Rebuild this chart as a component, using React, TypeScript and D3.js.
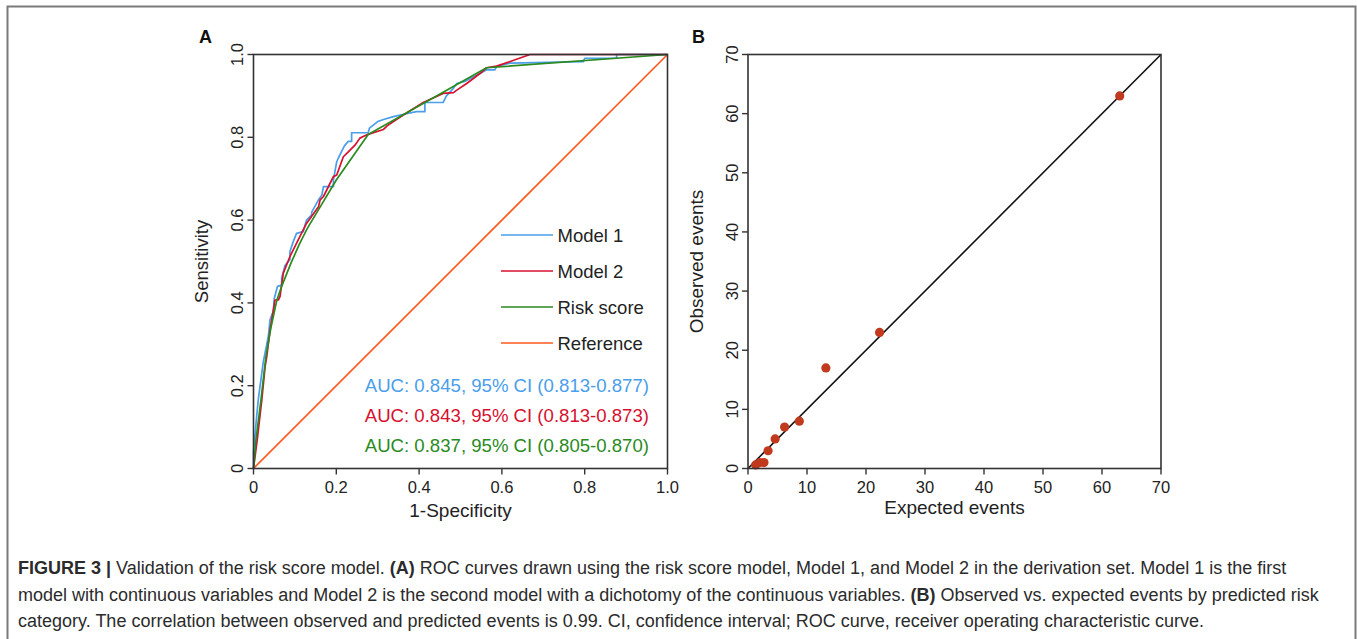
import * as d3 from 'd3';
import { useEffect, useRef } from "react";

// ROC points [1-specificity, sensitivity]
const model1: [number, number][] = [
  [0, 0], [0, 0.04], [0.004, 0.085], [0.008, 0.13], [0.012, 0.17], [0.016, 0.2], [0.024, 0.26],
  [0.028, 0.28], [0.036, 0.32], [0.04, 0.36], [0.048, 0.38], [0.05, 0.41], [0.058, 0.44],
  [0.068, 0.443], [0.068, 0.46], [0.076, 0.49], [0.088, 0.505], [0.088, 0.524], [0.096, 0.548],
  [0.104, 0.568], [0.12, 0.572], [0.128, 0.6], [0.14, 0.612], [0.141, 0.62], [0.152, 0.64],
  [0.157, 0.649], [0.165, 0.66], [0.169, 0.681], [0.193, 0.681], [0.193, 0.697], [0.201, 0.741],
  [0.205, 0.75], [0.21, 0.76], [0.215, 0.77], [0.22, 0.78], [0.229, 0.79], [0.237, 0.79],
  [0.237, 0.811], [0.277, 0.811], [0.28, 0.822], [0.29, 0.83], [0.3, 0.838], [0.314, 0.843],
  [0.338, 0.85], [0.36, 0.855], [0.394, 0.862], [0.414, 0.862], [0.414, 0.884], [0.458, 0.884],
  [0.466, 0.9], [0.48, 0.915], [0.491, 0.93], [0.51, 0.935], [0.547, 0.954], [0.563, 0.963],
  [0.583, 0.963], [0.587, 0.971], [0.62, 0.979], [0.797, 0.983], [0.8, 0.991], [0.877, 0.991],
  [0.877, 1], [1, 1],
];
const model2: [number, number][] = [
  [0, 0], [0.009, 0.069], [0.02, 0.165], [0.028, 0.246], [0.032, 0.27], [0.04, 0.335],
  [0.048, 0.383], [0.052, 0.407], [0.06, 0.407], [0.064, 0.415], [0.072, 0.472], [0.088, 0.512],
  [0.108, 0.552], [0.128, 0.592], [0.157, 0.632], [0.161, 0.649], [0.169, 0.657], [0.185, 0.689],
  [0.193, 0.705], [0.201, 0.709], [0.217, 0.753], [0.229, 0.765], [0.245, 0.781], [0.257, 0.798],
  [0.265, 0.802], [0.277, 0.807], [0.314, 0.819], [0.322, 0.827], [0.338, 0.838], [0.362, 0.854],
  [0.41, 0.884], [0.458, 0.906], [0.483, 0.908], [0.491, 0.914], [0.515, 0.93], [0.547, 0.954],
  [0.563, 0.968], [0.587, 0.972], [0.62, 0.983], [0.668, 1], [1, 1],
];
const riskScore: [number, number][] = [
  [0, 0], [0.006, 0.07], [0.018, 0.165], [0.03, 0.27], [0.042, 0.34], [0.056, 0.405],
  [0.068, 0.44], [0.09, 0.495], [0.11, 0.54], [0.13, 0.58], [0.16, 0.63], [0.2, 0.697],
  [0.277, 0.807], [0.563, 0.968], [1, 1],
];
const reference: [number, number][] = [[0, 0], [1, 1]];

const legendNames = ["Model 1", "Model 2", "Risk score", "Reference"];
const seriesColors = ["#4A9EEA", "#D7102F", "#2A8A1E", "#FF5A1F"];
const aucLabels = [
  "AUC: 0.845, 95% CI (0.813-0.877)",
  "AUC: 0.843, 95% CI (0.813-0.873)",
  "AUC: 0.837, 95% CI (0.805-0.870)",
];
const rocTicks = [0, 0.2, 0.4, 0.6, 0.8, 1.0];

// panel B: expected vs observed events
const expected = [63, 22.3, 13.2, 8.7, 6.2, 4.6, 3.4, 2.7, 2.0, 1.3];
const observed = [63, 23, 17, 8, 7, 5, 3, 1, 1, 0.6];
const eventTicks = [0, 10, 20, 30, 40, 50, 60, 70];

const captionLines = [
  [["FIGURE 3 | ", true], ["Validation of the risk score model. ", false], ["(A)", true],
   [" ROC curves drawn using the risk score model, Model 1, and Model 2 in the derivation set. Model 1 is the first", false]],
  [["model with continuous variables and Model 2 is the second model with a dichotomy of the continuous variables. ", false],
   ["(B)", true], [" Observed vs. expected events by predicted risk", false]],
  [["category. The correlation between observed and predicted events is 0.99. CI, confidence interval; ROC curve, receiver operating characteristic curve.", false]],
] as [string, boolean][][];

const W = 1357, H = 639;
const FONT = "'Liberation Sans', Arial, Helvetica, sans-serif";

const App = () => {
  const svgRef = useRef<SVGSVGElement>(null);

  useEffect(() => {
    const svg = d3.select(svgRef.current)
      .attr('width', W)
      .attr('height', H);
    svg.selectAll('*').remove();

    // outer frame
    svg.append('path')
      .attr('d', `M7.5,${H} V6.5 H1355.5 V${H}`)
      .attr('fill', 'none')
      .attr('stroke', '#7a7a7a')
      .attr('stroke-width', 2);

    const top = 54.5, bottom = 468.5;

    const drawFrame = (g: any, x: any, y: any, ticks: number[], fmt: (v: number) => string) => {
      const [x0, x1] = x.range();
      const [y0, y1] = y.range();
      g.append('rect')
        .attr('x', x0).attr('y', y1)
        .attr('width', x1 - x0).attr('height', y0 - y1)
        .attr('fill', 'none').attr('stroke', '#333').attr('stroke-width', 1.6);
      ticks.forEach(t => {
        g.append('line').attr('x1', x(t)).attr('x2', x(t)).attr('y1', y0).attr('y2', y0 + 6)
          .attr('stroke', '#333').attr('stroke-width', 1.4);
        g.append('text').attr('x', x(t)).attr('y', 493)
          .attr('text-anchor', 'middle').attr('font-size', 16.5).attr('fill', '#222')
          .text(fmt(t));
        g.append('line').attr('x1', x0 - 6).attr('x2', x0).attr('y1', y(t)).attr('y2', y(t))
          .attr('stroke', '#333').attr('stroke-width', 1.4);
        g.append('text')
          .attr('transform', `translate(${x0 - 10.5},${y(t)}) rotate(-90)`)
          .attr('text-anchor', 'middle').attr('font-size', 16.5).attr('fill', '#222')
          .text(fmt(t));
      });
    };

    // ---------- panel A ----------
    const xA = d3.scaleLinear().domain([0, 1]).range([253.5, 667.5]);
    const yA = d3.scaleLinear().domain([0, 1]).range([bottom, top]);
    const gA = svg.append('g').attr('font-family', FONT);

    const line = d3.line<[number, number]>().x(d => xA(d[0])).y(d => yA(d[1]));
    const series = [model1, model2, riskScore, reference];
    [3, 0, 1, 2].forEach(i => {
      gA.append('path')
        .attr('d', line(series[i]))
        .attr('fill', 'none')
        .attr('stroke', seriesColors[i])
        .attr('stroke-width', 1.7)
        .attr('stroke-linejoin', 'round');
    });
    drawFrame(gA, xA, yA, rocTicks, v => (v === 0 ? "0" : v.toFixed(1)));

    legendNames.forEach((name, i) => {
      const yy = 235 + i * 36;
      gA.append('line').attr('x1', 501).attr('x2', 553).attr('y1', yy).attr('y2', yy)
        .attr('stroke', seriesColors[i]).attr('stroke-width', 1.7);
      gA.append('text').attr('x', 557.5).attr('y', yy + 6.6)
        .attr('font-size', 18.5).attr('fill', '#222').text(name);
    });
    aucLabels.forEach((lab, i) => {
      gA.append('text').attr('x', 649).attr('y', 392.3 + i * 30)
        .attr('text-anchor', 'end').attr('font-size', 18.6)
        .attr('fill', seriesColors[i]).text(lab);
    });
    gA.append('text').attr('x', 460.5).attr('y', 517)
      .attr('text-anchor', 'middle').attr('font-size', 19).attr('fill', '#222').text('1-Specificity');
    gA.append('text').attr('transform', `translate(207.5,${(top + bottom) / 2}) rotate(-90)`)
      .attr('text-anchor', 'middle').attr('font-size', 18.5).attr('fill', '#222').text('Sensitivity');
    gA.append('text').attr('x', 199).attr('y', 43).attr('font-size', 18).attr('font-weight', 'bold')
      .attr('fill', '#111').text('A');

    // ---------- panel B ----------
    const xB = d3.scaleLinear().domain([0, 70]).range([748, 1161]);
    const yB = d3.scaleLinear().domain([0, 70]).range([bottom, top]);
    const gB = svg.append('g').attr('font-family', FONT);

    gB.append('line')
      .attr('x1', xB(0)).attr('y1', yB(0)).attr('x2', xB(70)).attr('y2', yB(70))
      .attr('stroke', '#111').attr('stroke-width', 1.6);
    gB.selectAll('circle')
      .data(expected.map((e, i) => [e, observed[i]]))
      .enter()
      .append('circle')
      .attr('cx', d => xB(d[0]))
      .attr('cy', d => yB(d[1]))
      .attr('r', 4.6)
      .attr('fill', '#C13A1E');
    drawFrame(gB, xB, yB, eventTicks, v => String(v));

    gB.append('text').attr('x', 954.5).attr('y', 513.5)
      .attr('text-anchor', 'middle').attr('font-size', 19).attr('fill', '#222').text('Expected events');
    gB.append('text').attr('transform', `translate(703,${(top + bottom) / 2}) rotate(-90)`)
      .attr('text-anchor', 'middle').attr('font-size', 19).attr('fill', '#222').text('Observed events');
    gB.append('text').attr('x', 692).attr('y', 43).attr('font-size', 18).attr('font-weight', 'bold')
      .attr('fill', '#111').text('B');

    // ---------- caption ----------
    const cap = svg.append('g')
      .attr('font-family', FONT)
      .attr('font-size', 18)
      .attr('fill', '#2b2b2b');
    captionLines.forEach((parts, i) => {
      const t = cap.append('text').attr('x', 18).attr('y', 574 + i * 26.5);
      parts.forEach(([s, b]) => {
        t.append('tspan').attr('font-weight', b ? 'bold' : 'normal').text(s);
      });
    });
  }, []);

  return (
    <div style={{ position: 'absolute', left: 0, top: 0 }}>
      <svg ref={svgRef} style={{ display: 'block', background: '#fff' }} />
    </div>
  );
};

export default App;
